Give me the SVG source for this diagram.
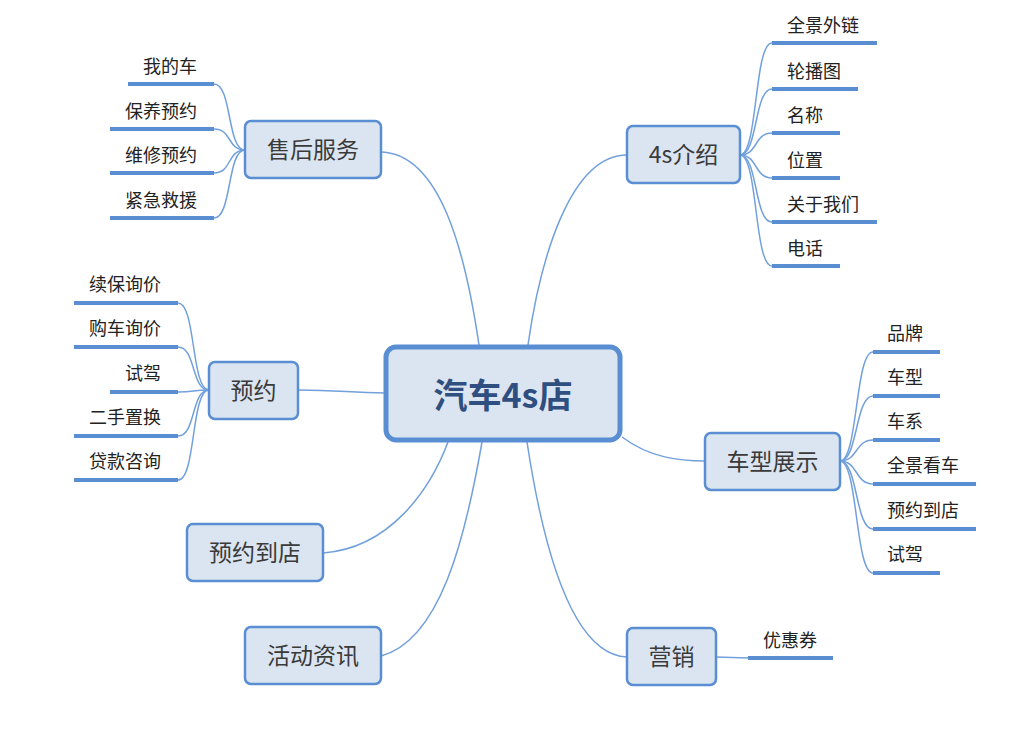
<svg xmlns="http://www.w3.org/2000/svg" width="1021" height="747" viewBox="0 0 1021 747">
<style>
.bg{fill:#ffffff}
.node rect{fill:#dbe5f2;stroke:#5a8ed3;stroke-width:2.5}
.center rect{fill:#dbe5f2;stroke:#5a8ed3;stroke-width:5}
.nt{font-family:"Noto Sans CJK SC","Liberation Sans",sans-serif;font-size:23px;fill:#3a3a3a;text-anchor:middle;dominant-baseline:central}
.ct{font-family:"Noto Sans CJK SC","Liberation Sans",sans-serif;font-size:34px;font-weight:bold;fill:#2f4f80;text-anchor:middle;dominant-baseline:central}
.lt{font-family:"Noto Sans CJK SC","Liberation Sans",sans-serif;font-size:18px;fill:#222;dominant-baseline:central}
.ul{stroke:#5a8ed3;stroke-width:4;fill:none}
.c{stroke:#72a0dc;stroke-width:1.5;fill:none}
</style>
<rect class="bg" x="0" y="0" width="1021" height="747"/>
<g id="connectors">
<path class="c" d="M382,152 C440,155 465,250 479,345"/>
<path class="c" d="M627,155 C570,155 540,260 528,345"/>
<path class="c" d="M298,390 C340,390 350,393 385,393"/>
<path class="c" d="M622,437 C650,458 680,461 705,461"/>
<path class="c" d="M323,553 C390,548 430,490 448,442"/>
<path class="c" d="M381,656 C440,640 465,540 482,442"/>
<path class="c" d="M527,442 C545,560 575,655 627,657"/>
<path class="c" d="M740,155 C758,155 754,43 772,43"/>
<path class="c" d="M740,155 C758,155 754,89 772,89"/>
<path class="c" d="M740,155 C758,155 754,133 772,133"/>
<path class="c" d="M740,155 C758,155 754,178 772,178"/>
<path class="c" d="M740,155 C758,155 754,222 772,222"/>
<path class="c" d="M740,155 C758,155 754,266 772,266"/>
<path class="c" d="M245,150 C227,150 232,84 214,84"/>
<path class="c" d="M245,150 C227,150 232,129 214,129"/>
<path class="c" d="M245,150 C227,150 232,173 214,173"/>
<path class="c" d="M245,150 C227,150 232,218 214,218"/>
<path class="c" d="M209,390 C191,390 196,303 178,303"/>
<path class="c" d="M209,390 C191,390 196,347 178,347"/>
<path class="c" d="M209,390 C191,390 196,392 178,392"/>
<path class="c" d="M209,390 C191,390 196,436 178,436"/>
<path class="c" d="M209,390 C191,390 196,480 178,480"/>
<path class="c" d="M840,461 C858,461 855,352 873,352"/>
<path class="c" d="M840,461 C858,461 855,396 873,396"/>
<path class="c" d="M840,461 C858,461 855,440 873,440"/>
<path class="c" d="M840,461 C858,461 855,484 873,484"/>
<path class="c" d="M840,461 C858,461 855,529 873,529"/>
<path class="c" d="M840,461 C858,461 855,573 873,573"/>
<path class="c" d="M716,657 L748,658"/>
</g>
<g id="center" class="center"><rect x="386" y="347" width="234" height="93" rx="10"/><text class="ct" x="503" y="393">汽车4s店</text></g>
<g id="n-4s" class="node"><rect x="627" y="126" width="113" height="57" rx="6"/><text class="nt" x="683.5" y="153">4s介绍</text></g>
<g id="n-shouhou" class="node"><rect x="245" y="121" width="136" height="57" rx="6"/><text class="nt" x="313" y="148">售后服务</text></g>
<g id="n-yuyue" class="node"><rect x="209" y="362" width="89" height="57" rx="6"/><text class="nt" x="253.5" y="389">预约</text></g>
<g id="n-chexing" class="node"><rect x="705" y="433" width="135" height="57" rx="6"/><text class="nt" x="772.5" y="460">车型展示</text></g>
<g id="n-yuyuedaodian" class="node"><rect x="187" y="524" width="136" height="57" rx="6"/><text class="nt" x="255" y="551">预约到店</text></g>
<g id="n-huodong" class="node"><rect x="245" y="627" width="136" height="57" rx="6"/><text class="nt" x="313" y="654">活动资讯</text></g>
<g id="n-yingxiao" class="node"><rect x="627" y="628" width="89" height="57" rx="6"/><text class="nt" x="671.5" y="655">营销</text></g>
<g id="l-quanjingwailian"><line class="ul" x1="772" y1="43" x2="877" y2="43"/><text class="lt" x="787" y="24">全景外链</text></g>
<g id="l-lunbotu"><line class="ul" x1="772" y1="89" x2="858" y2="89"/><text class="lt" x="787" y="70">轮播图</text></g>
<g id="l-mingcheng"><line class="ul" x1="772" y1="133" x2="840" y2="133"/><text class="lt" x="787" y="114">名称</text></g>
<g id="l-weizhi"><line class="ul" x1="772" y1="178" x2="840" y2="178"/><text class="lt" x="787" y="159">位置</text></g>
<g id="l-guanyu"><line class="ul" x1="772" y1="222" x2="877" y2="222"/><text class="lt" x="787" y="203">关于我们</text></g>
<g id="l-dianhua"><line class="ul" x1="772" y1="266" x2="840" y2="266"/><text class="lt" x="787" y="247">电话</text></g>
<g id="l-wodeche"><line class="ul" x1="128" y1="84" x2="214" y2="84"/><text class="lt" x="143" y="65">我的车</text></g>
<g id="l-baoyang"><line class="ul" x1="110" y1="129" x2="214" y2="129"/><text class="lt" x="125" y="110">保养预约</text></g>
<g id="l-weixiu"><line class="ul" x1="110" y1="173" x2="214" y2="173"/><text class="lt" x="125" y="154">维修预约</text></g>
<g id="l-jinji"><line class="ul" x1="110" y1="218" x2="214" y2="218"/><text class="lt" x="125" y="199">紧急救援</text></g>
<g id="l-xubao"><line class="ul" x1="74" y1="303" x2="178" y2="303"/><text class="lt" x="89" y="283">续保询价</text></g>
<g id="l-gouche"><line class="ul" x1="74" y1="347" x2="178" y2="347"/><text class="lt" x="89" y="327">购车询价</text></g>
<g id="l-shijia1"><line class="ul" x1="110" y1="392" x2="178" y2="392"/><text class="lt" x="125" y="372">试驾</text></g>
<g id="l-ershou"><line class="ul" x1="74" y1="436" x2="178" y2="436"/><text class="lt" x="89" y="416">二手置换</text></g>
<g id="l-daikuan"><line class="ul" x1="74" y1="480" x2="178" y2="480"/><text class="lt" x="89" y="460">贷款咨询</text></g>
<g id="l-pinpai"><line class="ul" x1="873" y1="352" x2="940" y2="352"/><text class="lt" x="887" y="332">品牌</text></g>
<g id="l-chexing"><line class="ul" x1="873" y1="396" x2="940" y2="396"/><text class="lt" x="887" y="376">车型</text></g>
<g id="l-chexi"><line class="ul" x1="873" y1="440" x2="940" y2="440"/><text class="lt" x="887" y="420">车系</text></g>
<g id="l-quanjingkanche"><line class="ul" x1="873" y1="484" x2="976" y2="484"/><text class="lt" x="887" y="464">全景看车</text></g>
<g id="l-yuyuedaodian"><line class="ul" x1="873" y1="529" x2="976" y2="529"/><text class="lt" x="887" y="509">预约到店</text></g>
<g id="l-shijia2"><line class="ul" x1="873" y1="573" x2="940" y2="573"/><text class="lt" x="887" y="553">试驾</text></g>
<g id="l-youhuiquan"><line class="ul" x1="748" y1="658" x2="833" y2="658"/><text class="lt" x="763" y="639">优惠券</text></g>
</svg>
